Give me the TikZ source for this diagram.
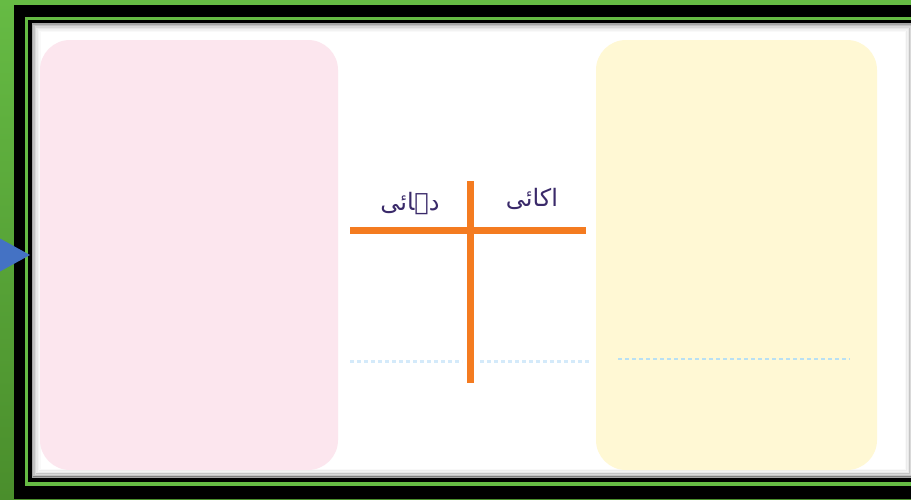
\documentclass[tikz,border=0pt]{standalone}
\usepackage{fontspec}
\newfontfamily\arabicfont[Script=Arabic]{DejaVu Sans}
\TeXXeTstate=1
\usetikzlibrary{positioning}

\definecolor{framegreen}{HTML}{66BB44}
\definecolor{framegreendark}{HTML}{4A8E2C}
\definecolor{tenspink}{HTML}{FCE6EE}
\definecolor{onesyellow}{HTML}{FFF8D4}
\definecolor{tbarorange}{HTML}{F47B20}
\definecolor{writeblue}{HTML}{B8E0F4}
\definecolor{writeblueleft}{HTML}{D4EAFA}
\definecolor{arrowblue}{HTML}{4472C4}
\definecolor{labelink}{HTML}{3A2A6A}

\begin{document}
\begin{tikzpicture}[
    x=1pt, y=-1pt,
    colbox/.style={
        rounded corners=30pt,
        minimum width=#1,
        minimum height=430pt,
        inner sep=0pt,
        draw=none
    },
    tbar/.style={tbarorange, line width=7pt},
    writeline/.style={line width=3pt, dash pattern=on 4pt off 3pt},
    headlabel/.style={
        text=labelink,
        font=\arabicfont\fontsize{24}{28}\selectfont,
        inner sep=0pt
    }
]
\useasboundingbox (0,0) rectangle (911,499);
% green background and double black frame
\shade[top color=framegreen, bottom color=framegreendark] (0,0) rectangle (911,499);
\fill[black] (14,5) rectangle (930,499);
\fill[framegreen] (24.5,17) rectangle (930,486);
\fill[black] (27.5,20) rectangle (930,482);
\fill[white] (31.5,23) rectangle (930,478);
% inner shadow of the sheet
\foreach \d/\o in {0/0.35,1.5/0.24,3/0.15,4.5/0.09,6/0.05,7.5/0.025}
    \draw[black, opacity=\o, line width=1.6pt]
        (31.5+\d+0.8,23+\d+0.8) rectangle (914-\d-0.8,478-\d-0.8);

% two columns
\node[colbox=298pt, fill=tenspink] (tens) at (189,255) {};
\node[colbox=281pt, fill=onesyellow] (ones) at (736.5,255) {};

% T chart
\coordinate (barleft) at (350,230);
\coordinate (barright) at (586,230);
\coordinate (bartop) at (470.5,181);
\coordinate (barbottom) at (470.5,383);
\draw[tbar] (barleft) -- (barright);
\draw[tbar] (bartop) -- (barbottom);

\node[headlabel] (tenslabel) at (410,203) {\beginR دہائی\endR};
\node[headlabel] (oneslabel) at (532,199) {\beginR اکائی\endR};

% lines to write on
\coordinate (wl1) at (350,361);
\coordinate (wl2) at (462,361);
\coordinate (wl3) at (480,361);
\coordinate (wl4) at (591,361);
\coordinate (wl5) at (618,359);
\coordinate (wl6) at (850,359);
\draw[writeline, writeblueleft] (wl1) -- (wl2);
\draw[writeline, writeblueleft] (wl3) -- (wl4);
\draw[writeline, writeblue, line width=2.5pt] (wl5) -- (wl6);

% pointer at the left edge
\coordinate (tip) at (30,255);
\fill[arrowblue] (-10,233) -- (tip) -- (-10,277) -- cycle;
\end{tikzpicture}
\end{document}
